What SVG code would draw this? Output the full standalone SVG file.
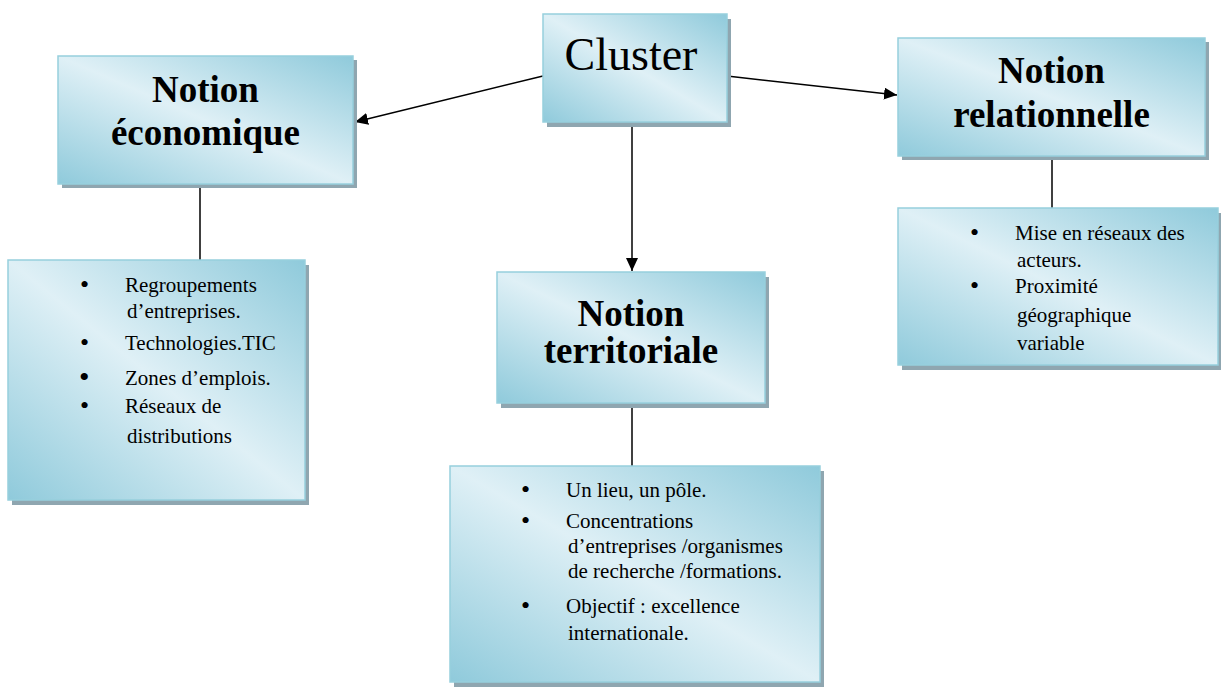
<svg xmlns="http://www.w3.org/2000/svg" width="1221" height="687" viewBox="0 0 1221 687">
<defs>
<linearGradient id="fill" x1="1" y1="0" x2="0" y2="1">
<stop offset="0" stop-color="#8fcadb"/>
<stop offset="0.5" stop-color="#dff0f6"/>
<stop offset="1" stop-color="#8fcadb"/>
</linearGradient>
<marker id="arr" markerUnits="userSpaceOnUse" markerWidth="14" markerHeight="12" refX="13" refY="6" orient="auto">
<path d="M0,0 L13,6 L0,12 z" fill="#000"/>
</marker>
</defs>
<style>
.shadow{fill:#8fa6b0}
.box{fill:url(#fill);stroke:#97cfdd;stroke-width:1.5}
.title{font-family:"Liberation Serif","Times New Roman",serif;font-weight:bold;font-size:37px;fill:#000;text-anchor:middle}
.big{font-family:"Liberation Serif","Times New Roman",serif;font-size:46px;fill:#000;text-anchor:middle}
.body{font-family:"Liberation Serif","Times New Roman",serif;font-size:21px;fill:#000}
.bul{font-family:"Liberation Serif","Times New Roman",serif;font-size:26px;fill:#000}
.conn{stroke:#000;stroke-width:1.5;fill:none}
</style>
<rect width="1221" height="687" fill="#fff"/>

<g id="connectors">
<path class="conn" d="M543,76 L355,122" marker-end="url(#arr)"/>
<path class="conn" d="M727,76 L897,95" marker-end="url(#arr)"/>
<path class="conn" d="M632,122 L632,271" marker-end="url(#arr)"/>
<path class="conn" d="M200,184 L200,260"/>
<path class="conn" d="M1052,156 L1052,208"/>
<path class="conn" d="M632,403 L632,466"/>
</g>

<g id="cluster">
<rect class="shadow" x="547" y="19" width="184" height="108"/>
<rect class="box" x="543" y="14" width="184" height="108"/>
<text class="big" x="631" y="70">Cluster</text>
</g>

<g id="notion-economique">
<rect class="shadow" x="62" y="60" width="295" height="128"/>
<rect class="box" x="58" y="56" width="295" height="128"/>
<text class="title" x="205.5" y="102">Notion</text>
<text class="title" x="205.5" y="145">économique</text>
</g>

<g id="notion-relationnelle">
<rect class="shadow" x="902" y="42" width="307" height="118"/>
<rect class="box" x="898" y="38" width="307" height="118"/>
<text class="title" x="1051.5" y="83">Notion</text>
<text class="title" x="1051.5" y="127">relationnelle</text>
</g>

<g id="notion-territoriale">
<rect class="shadow" x="501" y="277" width="268" height="131"/>
<rect class="box" x="497" y="272" width="268" height="131"/>
<text class="title" x="631" y="326">Notion</text>
<text class="title" x="631" y="363">territoriale</text>
</g>

<g id="liste-economique">
<rect class="shadow" x="12" y="265" width="297" height="240"/>
<rect class="box" x="8" y="260" width="297" height="240"/>
<text class="bul" x="80" y="293">•</text>
<text class="body" x="125" y="292">Regroupements</text>
<text class="body" x="127" y="318">d’entreprises.</text>
<text class="bul" x="80" y="351">•</text>
<text class="body" x="125" y="350">Technologies.TIC</text>
<text class="bul" x="79" y="387" style="font-size:30px">•</text>
<text class="body" x="125" y="385">Zones d’emplois.</text>
<text class="bul" x="80" y="414">•</text>
<text class="body" x="125" y="413">Réseaux de</text>
<text class="body" x="127" y="443">distributions</text>
</g>

<g id="liste-relationnelle">
<rect class="shadow" x="902" y="213" width="320" height="157"/>
<rect class="box" x="898" y="208" width="320" height="157"/>
<text class="bul" x="970" y="241">•</text>
<text class="body" x="1015" y="240">Mise en réseaux des</text>
<text class="body" x="1017" y="267">acteurs.</text>
<text class="bul" x="970" y="294">•</text>
<text class="body" x="1015" y="293">Proximité</text>
<text class="body" x="1017" y="322">géographique</text>
<text class="body" x="1017" y="350">variable</text>
</g>

<g id="liste-territoriale">
<rect class="shadow" x="454" y="471" width="370" height="216"/>
<rect class="box" x="450" y="466" width="370" height="216"/>
<text class="bul" x="521" y="498">•</text>
<text class="body" x="566" y="497">Un lieu, un pôle.</text>
<text class="bul" x="521" y="529">•</text>
<text class="body" x="566" y="528">Concentrations</text>
<text class="body" x="568" y="553">d’entreprises /organismes</text>
<text class="body" x="568" y="578">de recherche /formations.</text>
<text class="bul" x="521" y="614">•</text>
<text class="body" x="566" y="613">Objectif : excellence</text>
<text class="body" x="568" y="640">internationale.</text>
</g>
</svg>
